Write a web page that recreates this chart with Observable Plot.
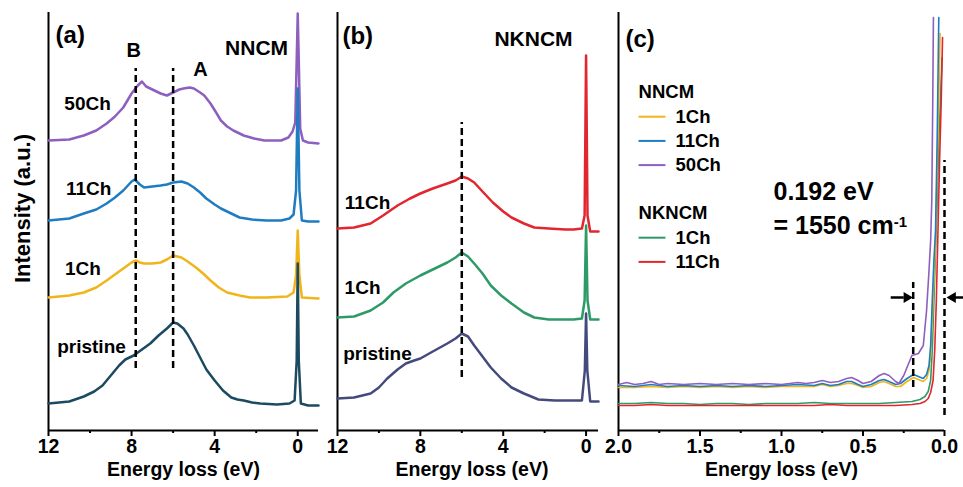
<!DOCTYPE html>
<html><head><meta charset="utf-8">
<script src="https://cdn.jsdelivr.net/npm/d3@7"></script>
<script src="https://cdn.jsdelivr.net/npm/@observablehq/plot@0.6"></script>
<style>
html,body{margin:0;padding:0;background:#fff;}
#chart{position:relative;width:963px;height:487px;overflow:hidden;background:#fff;}
#chart svg{position:absolute;top:0;}
</style></head><body><div id="chart"></div>
<script>
// ---------- Data: [energy loss (eV), intensity (a.u.)] ----------
// Panel (a) NNCM
const a_50Ch = [[12,290],[11,291],[10.3,295],[9.7,300],[9.2,307],[8.8,314],[8.4,323],[8.0,337],[7.7,345],[7.5,349],[7.3,344],[7.0,341],[6.6,337],[6.3,335],[6.0,338],[5.7,341],[5.5,342],[5.2,343],[5.0,342],[4.7,338],[4.5,335],[4.2,327],[3.9,317],[3.7,310],[3.4,304],[3.1,300],[2.6,295],[2.1,292],[1.6,290],[1.2,290],[0.8,290],[0.45,293],[0.25,299],[0.12,308],[0.05,370],[0,417],[-0.05,370],[-0.12,302],[-0.25,290],[-0.5,288],[-1,287]];
const a_11Ch = [[12,210],[11,212],[10.3,217],[9.7,221],[9.2,227],[8.8,233],[8.4,240],[8.0,249],[7.85,251],[7.6,246],[7.4,243],[7.0,244],[6.6,245],[6.3,246],[6.0,248],[5.6,249],[5.3,247],[5.0,243],[4.7,238],[4.4,232],[4.0,226],[3.7,222],[3.2,217],[2.8,213],[2.2,211],[1.5,210],[0.8,210],[0.4,212],[0.2,216],[0.08,240],[0,342],[-0.08,240],[-0.2,210],[-0.5,209],[-1,209]];
const a_1Ch = [[12,133],[11,135],[10.3,138],[9.7,143],[9.2,150],[8.8,156],[8.4,162],[8.0,168],[7.8,170],[7.6,168],[7.4,167],[7.0,167],[6.6,168],[6.3,171],[6.0,175],[5.8,174],[5.6,173],[5.3,169],[4.9,163],[4.5,156],[4.2,150],[3.8,143],[3.4,138],[2.8,135],[2.3,133],[1.5,133],[0.5,134],[0.2,138],[0.08,155],[0,200],[-0.08,155],[-0.2,133],[-1,132]];
const a_pristine = [[12,27],[11,29],[10.3,34],[9.8,39],[9.4,45],[9.0,55],[8.6,65],[8.3,71],[7.9,75],[7.5,81],[7.1,87],[6.7,95],[6.3,102],[6.0,108],[5.8,107],[5.5,102],[5.3,96],[5.0,85],[4.7,73],[4.4,61],[4.0,50],[3.6,40],[3.2,33],[2.9,31],[2.6,30],[2.2,28],[1.8,27],[1.0,26],[0.4,27],[0.15,30],[0.05,70],[0,167],[-0.05,70],[-0.15,27],[-0.5,25],[-1,25]];
const a_peaks = [7.8, 6.0];  // features B and A (eV)

// Panel (b) NKNCM
const b_11Ch = [[12,202],[11.2,203],[10.4,207],[9.8,215],[9.1,225],[8.5,232],[8.0,237],[7.4,242],[6.7,247],[6.3,250],[6.0,254],[5.7,252],[5.4,248],[5.0,239],[4.5,228],[4.0,219],[3.6,213],[3.0,207],[2.5,203],[1.8,202],[1.0,201],[0.6,201],[0.2,202],[0.07,215],[0,375],[-0.07,215],[-0.2,199],[-0.6,199]];
const b_1Ch = [[12,113],[11.2,114],[10.4,120],[9.8,128],[9.3,138],[8.7,147],[8.0,155],[7.4,161],[6.7,168],[6.3,173],[6.0,178],[5.7,174],[5.4,167],[5.0,157],[4.6,145],[4.1,135],[3.6,127],[3.0,118],[2.5,113],[1.8,111],[0.6,111],[0.2,112],[0.07,130],[0,205],[-0.07,130],[-0.2,111],[-0.6,111]];
const b_pristine = [[12,32],[11.2,33],[10.4,37],[10.0,43],[9.6,52],[9.1,61],[8.7,67],[8.3,70],[8.0,72],[7.4,79],[6.7,87],[6.3,92],[6.0,97],[5.7,94],[5.4,85],[5.0,74],[4.6,63],[4.1,52],[3.6,43],[3.0,37],[2.3,31],[1.5,30],[0.6,30],[0.2,30],[0.06,60],[0,117],[-0.06,60],[-0.2,29],[-0.6,29]];
const b_peaks = [6.0];

// Panel (c) low-loss region
const c_NNCM_50Ch = [[2.0,46],[1.95,48],[1.9,46],[1.85,47],[1.8,49],[1.75,46],[1.7,47],[1.6,46],[1.5,47],[1.4,46],[1.3,47],[1.2,46],[1.1,47],[1.0,46],[0.9,48],[0.85,47],[0.8,48],[0.75,50],[0.7,48],[0.65,49],[0.6,52],[0.57,53],[0.53,50],[0.5,47],[0.45,49],[0.4,55],[0.37,57],[0.34,55],[0.3,49],[0.28,47],[0.25,55],[0.2,75],[0.16,77],[0.13,85],[0.11,120],[0.095,160],[0.085,190],[0.078,230],[0.072,330],[0.068,413]];
const c_NNCM_11Ch = [[2.0,45],[1.9,44],[1.8,46],[1.7,44],[1.6,45],[1.5,44],[1.4,45],[1.3,44],[1.2,45],[1.1,44],[1.0,45],[0.9,46],[0.8,45],[0.75,47],[0.7,45],[0.65,46],[0.6,49],[0.57,49],[0.53,46],[0.5,44],[0.45,46],[0.4,50],[0.37,51],[0.34,49],[0.3,46],[0.27,47],[0.23,52],[0.19,56],[0.16,54],[0.13,52],[0.11,56],[0.095,65],[0.085,85],[0.075,130],[0.065,170],[0.055,200],[0.045,290],[0.035,413]];
const c_NNCM_1Ch = [[2.0,43],[1.9,43],[1.8,44],[1.7,43],[1.6,44],[1.5,43],[1.4,44],[1.3,43],[1.2,44],[1.1,43],[1.0,44],[0.9,44],[0.8,44],[0.75,46],[0.7,44],[0.65,45],[0.6,47],[0.57,47],[0.53,45],[0.5,43],[0.45,44],[0.4,48],[0.37,49],[0.34,47],[0.3,44],[0.27,44],[0.23,49],[0.19,53],[0.16,51],[0.13,49],[0.11,52],[0.095,60],[0.085,75],[0.075,110],[0.065,150],[0.055,190],[0.045,260],[0.035,330],[0.027,397]];
const c_NKNCM_1Ch = [[2.0,27],[1.9,27],[1.8,28],[1.7,27],[1.6,27],[1.5,26],[1.4,27],[1.3,27],[1.2,26],[1.1,27],[1.0,27],[0.9,27],[0.8,28],[0.7,27],[0.6,27],[0.5,27],[0.4,27],[0.3,28],[0.2,29],[0.15,31],[0.12,34],[0.1,39],[0.085,50],[0.075,80],[0.065,130],[0.055,180],[0.045,230],[0.035,290],[0.025,330],[0.015,373]];
const c_NKNCM_11Ch = [[2.0,25],[1.9,25],[1.8,26],[1.7,25],[1.6,25],[1.5,25],[1.4,25],[1.3,25],[1.2,25],[1.1,25],[1.0,25],[0.9,25],[0.8,25],[0.7,26],[0.6,25],[0.5,25],[0.4,25],[0.3,25],[0.2,26],[0.15,27],[0.12,29],[0.1,32],[0.085,38],[0.07,50],[0.06,80],[0.05,130],[0.04,200],[0.03,270],[0.02,330],[0.012,393]];
const c_gap = [0.192, 0];   // 0.192 eV = 1550 cm-1

// Tick labels
const abTicks = [12, 8, 4, 0], abMinor = [10, 6, 2];
const cTicks = [2.0, 1.5, 1.0, 0.5, 0.0], cMinor = [1.75, 1.25, 0.75, 0.25];

const C = {purple:"#8d5fbe", blue:"#1f7cc1", yellow:"#f1b51c", teal:"#1c4a60",
           red:"#e2262f", green:"#2e9a67", slate:"#454a7d"};

const legend = [
  {row:0, text:"NNCM"},
  {row:1, text:"1Ch", color:C.yellow},
  {row:2, text:"11Ch", color:C.blue},
  {row:3, text:"50Ch", color:C.purple},
  {row:5, text:"NKNCM"},
  {row:6, text:"1Ch", color:C.green},
  {row:7, text:"11Ch", color:C.red}
];

const FONT = '"Liberation Sans", Arial, Helvetica, sans-serif';
const chart = document.getElementById("chart");

function panel({left, width, marginLeft, marginRight, domain, major, minor, fmt, labelDx = 0, marks}) {
  const svg = Plot.plot({
    width, height: 487, marginTop: 12, marginBottom: 57, marginLeft, marginRight,
    style: {fontFamily: FONT, fontWeight: "bold", background: "transparent", overflow: "visible", color: "#000"},
    x: {domain, label: null},
    y: {domain: [0, 418], axis: null},
    color: {type: "identity"},
    marks: [
      Plot.ruleX([domain[0]], {stroke: "#000", strokeWidth: 2}),
      Plot.ruleY([0], {stroke: "#000", strokeWidth: 2}),
      // minor ticks: short outward marks below the axis line
      Plot.ruleX(minor, {y1: 0, y2: 0, insetBottom: -3, stroke: "#000", strokeWidth: 2}),
      Plot.axisX({ticks: major, tickSize: 6, strokeWidth: 2, tickPadding: 3, fontSize: 19.5, tickFormat: fmt, label: null}),
      Plot.text(["Energy loss (eV)"], {frameAnchor: "bottom", dy: 45, dx: labelDx, fontSize: 19.5}),
      ...marks
    ]
  });
  svg.style.left = left + "px";
  chart.appendChild(svg);
  return svg;
}

const curve = (data, color, w = 2.5) => Plot.line(data, {stroke: color, strokeWidth: w});
const dash = {stroke: "#000", strokeWidth: 2.5, strokeDasharray: "7,4"};

// Panel (a)
panel({
  left: 0, width: 330, marginLeft: 48, marginRight: 12, domain: [12, -1],
  major: abTicks, minor: abMinor, fmt: d3.format("d"),
  marks: [
    curve(a_50Ch, C.purple), curve(a_11Ch, C.blue), curve(a_1Ch, C.yellow), curve(a_pristine, C.teal),
    Plot.ruleX(a_peaks, {y1: 62, y2: 362, ...dash}),
    Plot.text(["Intensity (a.u.)"], {frameAnchor: "left", textAnchor: "middle", rotate: -90, dx: -26, dy: -13, fontSize: 22}),
    Plot.text(["(a)"], {x: 11.66, y: 395, textAnchor: "start", fontSize: 24}),
    Plot.text(["B"], {x: 7.9, y: 380, fontSize: 20}),
    Plot.text(["A"], {x: 4.68, y: 361, fontSize: 20}),
    Plot.text(["NNCM"], {x: 1.98, y: 382, fontSize: 21}),
    Plot.text(["50Ch"], {x: 10.12, y: 327, fontSize: 19}),
    Plot.text(["11Ch"], {x: 10.07, y: 242, fontSize: 19}),
    Plot.text(["1Ch"], {x: 10.34, y: 162, fontSize: 19}),
    Plot.text(["pristine"], {x: 9.93, y: 84, fontSize: 19})
  ]
});

// Panel (b)
panel({
  left: 320, width: 300, marginLeft: 17, marginRight: 22, domain: [12, -0.6],
  major: abTicks, minor: abMinor, fmt: d3.format("d"), labelDx: 4,
  marks: [
    curve(b_11Ch, C.red), curve(b_1Ch, C.green), curve(b_pristine, C.slate),
    Plot.ruleX(b_peaks, {y1: 53, y2: 308, ...dash}),
    Plot.text(["(b)"], {x: 11.76, y: 394, textAnchor: "start", fontSize: 24}),
    Plot.text(["NKNCM"], {x: 2.54, y: 391, fontSize: 21}),
    Plot.text(["11Ch"], {x: 10.55, y: 228, fontSize: 19}),
    Plot.text(["1Ch"], {x: 10.79, y: 143, fontSize: 19}),
    Plot.text(["pristine"], {x: 10.07, y: 77, fontSize: 19})
  ]
});

// Panel (c)
const rowY = d => 338 - d.row * 24.2;
const svgC = panel({
  left: 600, width: 363, marginLeft: 18, marginRight: 19, domain: [2, 0],
  major: cTicks, minor: cMinor, fmt: d3.format(".1f"),
  marks: [
    curve(c_NKNCM_1Ch, C.green, 1.6), curve(c_NKNCM_11Ch, C.red, 1.6),
    curve(c_NNCM_1Ch, C.yellow, 1.6), curve(c_NNCM_11Ch, C.blue, 1.6), curve(c_NNCM_50Ch, C.purple, 1.6),
    Plot.ruleX([c_gap[0]], {y1: 43, y2: 148, ...dash}),
    Plot.ruleX([c_gap[1]], {y1: 15, y2: 270, ...dash}),
    // arrows pointing at the two dashed lines
    Plot.link([c_gap[0]], {x1: 0.33, x2: 0.25, y1: 133, y2: 133, stroke: "#000", strokeWidth: 2.5}),
    Plot.dot([c_gap[0]], {x: d => d, y: 133, symbol: "triangle", r: 4, rotate: 90, dx: -6.5, fill: "#000", stroke: "none"}),
    Plot.link([c_gap[1]], {x1: -0.06, x2: -0.12, y1: 133, y2: 133, stroke: "#000", strokeWidth: 2.5}),
    Plot.dot([c_gap[1]], {x: d => d, y: 133, symbol: "triangle", r: 4, rotate: -90, dx: 8.2, fill: "#000", stroke: "none"}),
    Plot.text(["(c)"], {x: 1.957, y: 391, textAnchor: "start", fontSize: 24}),
    Plot.text(legend.filter(d => !d.color), {x: 1.877, y: rowY, text: "text", textAnchor: "start", fontSize: 18.5}),
    Plot.link(legend.filter(d => d.color), {x1: 1.877, x2: 1.712, y1: rowY, y2: rowY, stroke: "color", strokeWidth: 2}),
    Plot.text(legend.filter(d => d.color), {x: 1.65, y: rowY, text: "text", textAnchor: "start", fontSize: 18.5}),
    Plot.text(["0.192 eV"], {x: 1.049, y: 239, textAnchor: "start", fontSize: 25}),
    Plot.text(["= 1550 cm"], {x: 1.049, y: 205, textAnchor: "start", fontSize: 25})
  ]
});
svgC.querySelectorAll("text").forEach(t => {
  if (t.textContent === "= 1550 cm") {
    const ts = document.createElementNS("http://www.w3.org/2000/svg", "tspan");
    ts.setAttribute("dy", "-0.45em");
    ts.setAttribute("font-size", "15");
    ts.textContent = "-1";
    t.appendChild(ts);
  }
});
</script></body></html>
